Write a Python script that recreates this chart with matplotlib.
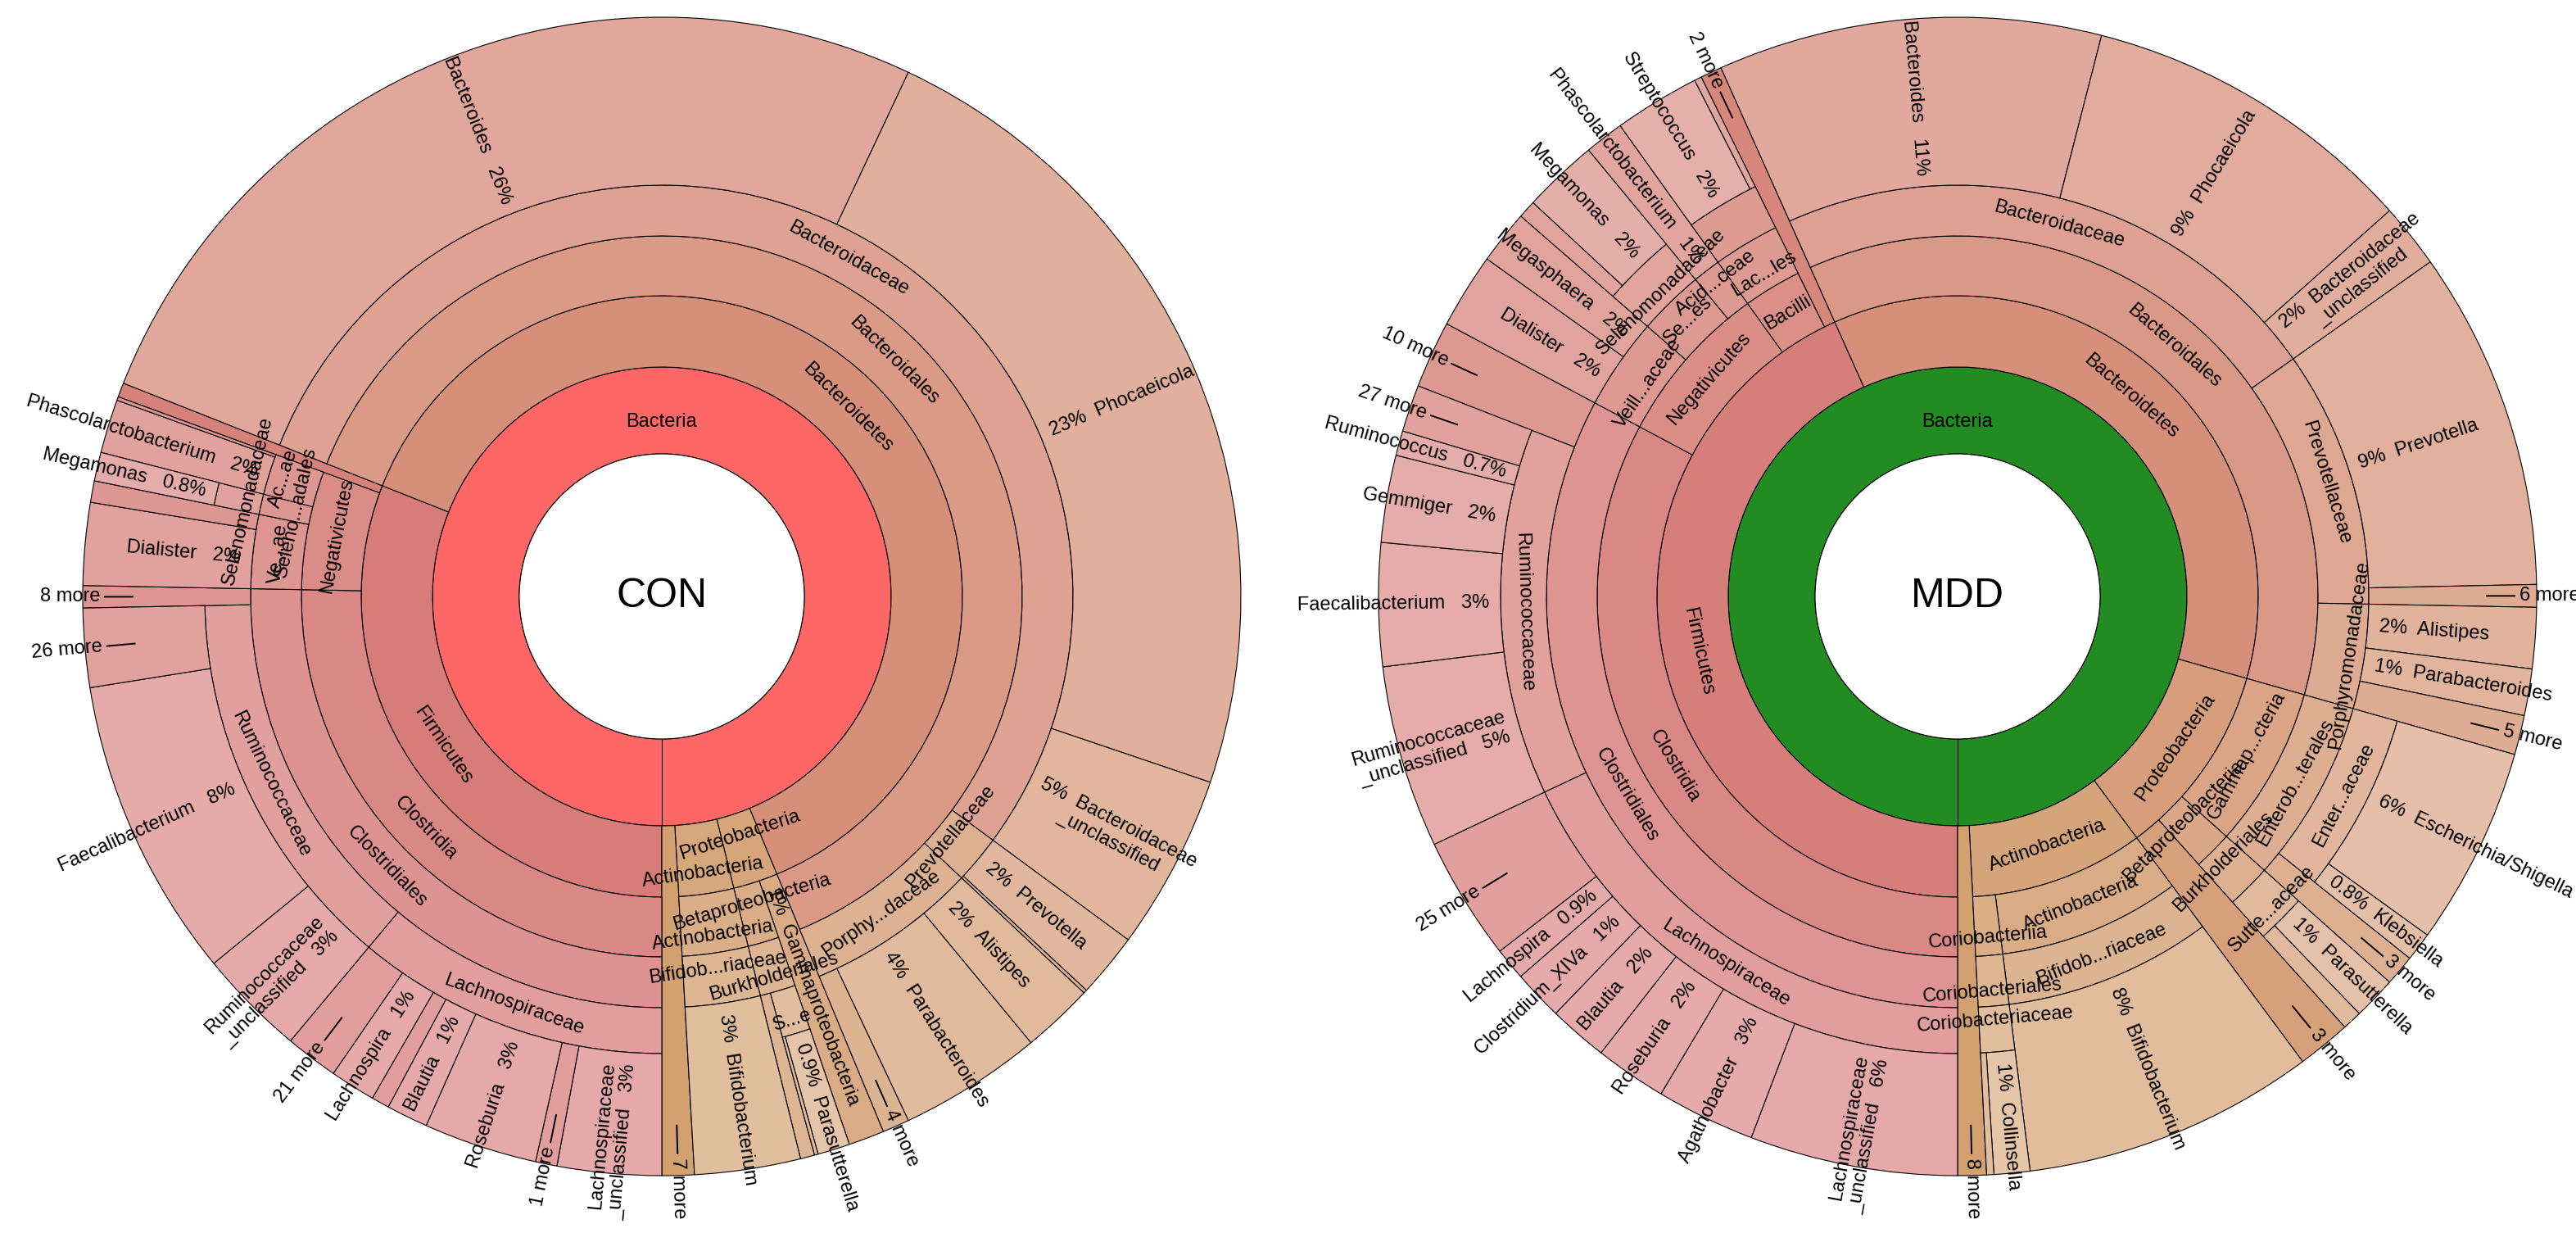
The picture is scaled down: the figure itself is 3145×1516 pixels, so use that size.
import colorsys
import numpy as np
import matplotlib
matplotlib.use("Agg")
import matplotlib.pyplot as plt
from matplotlib.patches import Wedge, Circle

# lineage below "Bacteria", listed clockwise from the 6 o'clock line
LACH = ("Firmicutes", "Clostridia", "Clostridiales", "Lachnospiraceae")
RUMI = ("Firmicutes", "Clostridia", "Clostridiales", "Ruminococcaceae")
CLOS = ("Firmicutes", "Clostridia", "Clostridiales")
NEGA = ("Firmicutes", "Negativicutes")
BACT = ("Bacteroidetes", "Bacteroidales")
BETA = ("Proteobacteria", "Betaproteobacteria", "Burkholderiales")
GAMM = ("Proteobacteria", "Gammap...cteria", "Enterob...terales")

con_lineage = [
    LACH + ("Lachnospiraceae\n_unclassified",),
    LACH + ("1 more",),
    LACH + ("Roseburia",),
    LACH + ("Blautia",),
    LACH + ("",),
    LACH + ("Lachnospira",),
    LACH + ("21 more",),
    RUMI + ("Ruminococcaceae\n_unclassified",),
    RUMI + ("Faecalibacterium",),
    RUMI + ("26 more",),
    CLOS + ("8 more",),
    NEGA + ("Ve...ae", "Dialister"),
    NEGA + ("Ve...ae", ""),
    NEGA + ("Seleno...adales", "Selenomonadaceae", "Megamonas"),
    NEGA + ("Ac...ae", "Phascolarctobacterium"),
    NEGA + ("Ac...ae", ""),
    ("Firmicutes", ""),
    BACT + ("Bacteroidaceae", "Bacteroides"),
    BACT + ("Bacteroidaceae", "Phocaeicola"),
    BACT + ("Bacteroidaceae", "Bacteroidaceae\n_unclassified"),
    BACT + ("Prevotellaceae", "Prevotella"),
    BACT + ("Prevotellaceae", ""),
    BACT + ("Porphy...daceae", "Alistipes"),
    BACT + ("Porphy...daceae", "Parabacteroides"),
    BACT + ("Porphy...daceae", "4 more"),
    ("Proteobacteria", "Gammaproteobacteria"),
    BETA + ("S...e", "Parasutterella"),
    BETA + ("S...e", ""),
    BETA + ("",),
    ("Actinobacteria", "Actinobacteria", "Bifidob...riaceae", "Bifidobacterium"),
    ("7 more",),
]
con_pct = [2.9, 0.6, 3.17, 1.16, 0.5, 1.27, 1.48,
           3.0, 8.4, 2.2, 0.62,
           2.3, 0.6, 0.8, 1.5, 0.1, 0.4,
           26.0, 23.2, 4.9, 1.8, 0.1, 2.0, 4.0, 0.75,
           1.0, 0.9, 0.1, 0.4,
           2.95, 0.9]

mdd_lineage = [
    LACH + ("Lachnospiraceae\n_unclassified",),
    LACH + ("Agathobacter",),
    LACH + ("Roseburia",),
    LACH + ("Blautia",),
    LACH + ("Clostridium_XIVa",),
    LACH + ("Lachnospira",),
    LACH + ("25 more",),
    RUMI + ("Ruminococcaceae\n_unclassified",),
    RUMI + ("Faecalibacterium",),
    RUMI + ("Gemmiger",),
    RUMI + ("Ruminococcus",),
    RUMI + ("27 more",),
    CLOS + ("10 more",),
    NEGA + ("Veill...aceae", "Dialister"),
    NEGA + ("Veill...aceae", "Megasphaera"),
    NEGA + ("Se...es", "Selenomonadaceae", ""),
    NEGA + ("Se...es", "Selenomonadaceae", "Megamonas"),
    NEGA + ("Acid...ceae", "Phascolarctobacterium"),
    ("Firmicutes", "Bacilli", "Lac...les", "", "Streptococcus"),
    ("Firmicutes", "Bacilli", "Lac...les", "", ""),
    ("Firmicutes", "2 more"),
    BACT + ("Bacteroidaceae", "Bacteroides"),
    BACT + ("Bacteroidaceae", "Phocaeicola"),
    BACT + ("Bacteroidaceae", "Bacteroidaceae\n_unclassified"),
    BACT + ("Prevotellaceae", "Prevotella"),
    BACT + ("Prevotellaceae", "6 more"),
    BACT + ("Porphyromonadaceae", "Alistipes"),
    BACT + ("Porphyromonadaceae", "Parabacteroides"),
    BACT + ("Porphyromonadaceae", "5 more"),
    GAMM + ("Enter...aceae", "Escherichia/Shigella"),
    GAMM + ("Enter...aceae", "Klebsiella"),
    GAMM + ("3 more",),
    BETA + ("Sutte...aceae", "Parasutterella"),
    BETA + ("Sutte...aceae", ""),
    ("Proteobacteria", "3 more"),
    ("Actinobacteria", "Actinobacteria", "Bifidob...riaceae", "Bifidobacterium"),
    ("Actinobacteria", "Coriobacteriia", "Coriobacteriales", "Coriobacteriaceae", "Collinsella"),
    ("Actinobacteria", "Coriobacteriia", "Coriobacteriales", "Coriobacteriaceae", ""),
    ("8 more",),
]
mdd_pct = [5.8, 2.76, 2.0, 1.65, 1.4, 0.9, 3.45,
           5.1, 3.43, 2.43, 0.69, 1.31, 1.88,
           2.1, 1.5, 0.5, 2.1, 1.1, 2.4, 0.2, 0.6,
           10.7, 9.4, 1.8, 9.47, 0.63, 1.7, 1.3, 1.1,
           5.54, 0.8, 0.86, 1.2, 0.54, 1.5,
           8.16, 1.0, 0.2, 0.8]

sample_names = ["CON", "MDD"]
root_name = "Bacteria"
root_colors = ["#ff6666", "#228b22"]

plt.rcParams["font.family"] = ["Liberation Sans", "DejaVu Sans"]

W, H = 3145, 1516
centers = [(808, 788), (2390, 788)]
RADII = [174, 280, 367, 440, 502, 558, 707]
FS = 17
FS_PX = FS * 100 / 72.0
LW = 0.8


def build_nodes(lineage, pct):
    edges = np.concatenate([[0.0], np.cumsum(pct)]) / float(sum(pct))
    nodes = []
    for d in range(1, max(len(p) for p in lineage) + 1):
        i = 0
        while i < len(lineage):
            path = lineage[i]
            if len(path) < d:
                i += 1
                continue
            j = i
            while (j + 1 < len(lineage) and len(lineage[j + 1]) >= d
                   and lineage[j + 1][:d] == path[:d]):
                j += 1
            leaf = (i == j and len(path) == d)
            nodes.append((d + 1, path[d - 1], edges[i], edges[j + 1], leaf))
            i = j + 1
    return nodes


def shade(t, depth, dim):
    h = 30 * t ** 1.6 / 360.0
    l = 0.60 + 0.03 * depth - (0.03 if dim else 0.0)
    return colorsys.hls_to_rgb(h, l, 0.53)


def pos(c, t, r):
    a = np.deg2rad(270 - 360 * t)
    return c[0] + r * np.cos(a), c[1] + r * np.sin(a)


def upright(a):
    a = (a + 90) % 360 - 90
    if a >= 90:
        return a - 180, True
    return a, False


def pct_text(v):
    if v < 0.95:
        return "%.1f%%" % v
    return "%d%%" % int(v + 0.5 + 1e-6)


fig = plt.figure(figsize=(W / 100.0, H / 100.0), dpi=100)
ax = fig.add_axes([0, 0, 1, 1])
ax.set_xlim(0, W)
ax.set_ylim(0, H)
ax.set_aspect("equal")
ax.axis("off")

for c, sample, root_col, lineage, pct in zip(centers, sample_names, root_colors,
                                             [con_lineage, mdd_lineage],
                                             [con_pct, mdd_pct]):
    # root ring and centre
    ax.add_patch(Wedge(c, RADII[1], 0, 360, width=RADII[1] - RADII[0],
                       fc=root_col, ec="black", lw=LW))
    ax.plot(*zip(pos(c, 0, RADII[0]), pos(c, 0, RADII[1])), color="black", lw=LW)
    ax.add_patch(Circle(c, RADII[0], fc="white", ec="black", lw=LW))
    ax.text(c[0], c[1], sample, fontsize=36, ha="center", va="center")
    ax.text(*pos(c, 0.5, (RADII[0] + RADII[1]) / 2.0 - 14), root_name,
            fontsize=FS, ha="center", va="center")

    stagger = {}
    for depth, label, t0, t1, leaf in build_nodes(lineage, pct):
        r_in = RADII[depth - 1]
        r_out = RADII[-1] if leaf else RADII[depth]
        more = label.endswith(" more")
        dim = more or label == ""
        ax.add_patch(Wedge(c, r_out, 270 - 360 * t1, 270 - 360 * t0,
                           width=r_out - r_in, fc=shade((t0 + t1) / 2, depth, dim),
                           ec="black", lw=LW))
        if not label:
            continue
        tm = (t0 + t1) / 2
        phi = 270 - 360 * tm
        span = 2 * np.pi * (t1 - t0)
        if leaf:
            rot, flip = upright(phi)
            ha = "right" if flip else "left"
            if more:
                ax.plot(*zip(pos(c, tm, r_out - 61), pos(c, tm, r_out - 27)),
                        color="black", lw=1.4)
                r_lab = r_out - 21
                txt = label
            else:
                r_lab = max(r_in + 14, FS_PX / span)
                p = pct_text((t1 - t0) * 100)
                lines = label.split("\n")
                if flip:
                    lines[-1] = lines[-1] + "   " + p
                else:
                    lines[0] = p + "  " + lines[0]
                txt = "\n".join(lines)
            ax.text(*pos(c, tm, r_lab), txt, rotation=rot, rotation_mode="anchor",
                    ha=ha, va="center", multialignment="right" if flip else "center",
                    fontsize=FS)
        else:
            r_mid = (r_in + r_out) / 2.0
            if 0.55 * FS_PX * len(label) > 1.5 * span * r_mid:
                k = stagger.get(depth, 0)
                stagger[depth] = k + 1
                r_mid += (-1 if k % 2 == 0 else 1) * 0.2 * (r_out - r_in)
            rot, _ = upright(phi - 90)
            ax.text(*pos(c, tm, r_mid), label, rotation=rot, rotation_mode="anchor",
                    ha="center", va="center", fontsize=FS)

fig.savefig("out.png", dpi=100)
